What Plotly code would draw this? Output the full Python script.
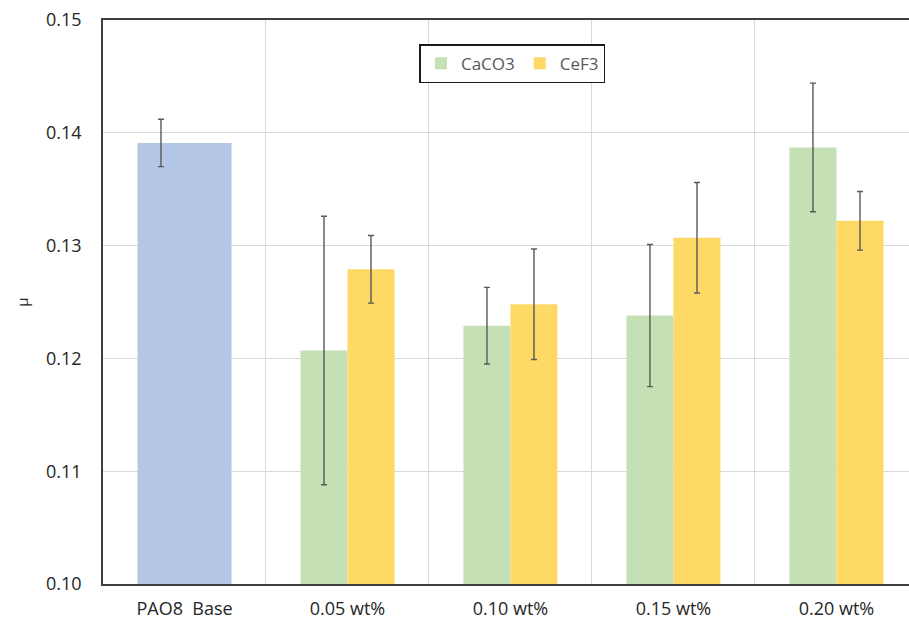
import plotly.graph_objects as go

# Friction coefficient data
categories = ["PAO8  Base", "0.05 wt%", "0.10 wt%", "0.15 wt%", "0.20 wt%"]
base_value = [0.1391]
base_err = [0.0021]
caco3_values = [0.1207, 0.1229, 0.1238, 0.1387]
caco3_err = [0.0119, 0.0034, 0.0063, 0.0057]
cef3_values = [0.1279, 0.1248, 0.1307, 0.1322]
cef3_err = [0.0030, 0.0049, 0.0049, 0.0026]

loaded = categories[1:]
half = 0.2885
err_style = dict(type="data", thickness=1.4, width=3, color="#595959")

fig = go.Figure()

fig.add_trace(go.Bar(
    x=categories[:1], y=base_value, width=2 * half, offset=-half,
    marker=dict(color="#B4C7E7", line=dict(width=0)), showlegend=False,
))
# the base error bar sits at the left sub-slot of its category
fig.add_trace(go.Bar(
    x=categories[:1], y=base_value, width=half, offset=-half,
    marker=dict(color="rgba(0,0,0,0)", line=dict(width=0)), showlegend=False,
    error_y=dict(array=base_err, **err_style), hoverinfo="skip",
))
fig.add_trace(go.Bar(
    x=loaded, y=caco3_values, width=half, offset=-half, name="CaCO3",
    marker=dict(color="#C5E0B4", line=dict(width=0)),
    error_y=dict(array=caco3_err, **err_style),
))
fig.add_trace(go.Bar(
    x=loaded, y=cef3_values, width=half, offset=0, name="CeF3",
    marker=dict(color="#FFD966", line=dict(width=0)),
    error_y=dict(array=cef3_err, **err_style),
))

font_family = "Open Sans"
fig.update_layout(
    width=909, height=620,
    margin=dict(l=103, r=0, t=20, b=36),
    paper_bgcolor="white", plot_bgcolor="white",
    barmode="overlay",
    font=dict(family=font_family, size=18, color="#262626"),
    showlegend=True,
    legend=dict(
        orientation="h", x=0.508, xanchor="center", y=0.957, yanchor="top",
        bordercolor="#1a1a1a", borderwidth=1.5, bgcolor="white",
        font=dict(size=17, color="#595959"),
        itemwidth=30, traceorder="normal",
    ),
    xaxis=dict(
        type="category", categoryorder="array", categoryarray=categories,
        range=[-0.5, 4.445], tickson="boundaries", ticks="",
        showgrid=True, gridcolor="#D9D9D9", gridwidth=1.3,
        showline=True, linecolor="#404040", linewidth=1.6, mirror=True,
        ticklabelstandoff=8,
    ),
    yaxis=dict(
        range=[0.10, 0.15], tickvals=[0.10, 0.11, 0.12, 0.13, 0.14, 0.15],
        tickformat=".2f", ticks="",
        showgrid=True, gridcolor="#D9D9D9", gridwidth=1.3,
        showline=True, linecolor="#404040", linewidth=1.6,
        zeroline=False, ticklabelstandoff=16,
        title=dict(text="μ", font=dict(size=15, color="#262626"), standoff=14),
    ),
)

fig.write_html("out.html")
